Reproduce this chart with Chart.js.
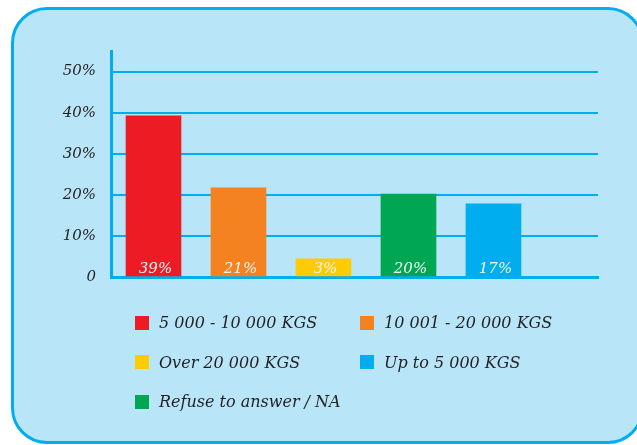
<!DOCTYPE html>
<html><head><meta charset="utf-8">
<script src="https://cdn.jsdelivr.net/npm/chart.js@4"></script>
<style>
html,body{margin:0;padding:0;background:#fff;width:637px;height:445px;overflow:hidden;}
#box{position:absolute;left:11px;top:7px;width:633px;height:437px;box-sizing:border-box;border:3px solid #00aeef;border-radius:36px;background:#b9e5f9;}
#c{position:absolute;left:0;top:0;}
#legend{position:absolute;left:135px;top:303px;display:grid;grid-template-columns:225px 225px;grid-auto-rows:39.5px;font:italic 16px "DejaVu Serif";color:#231f20;}
.item{display:flex;align-items:center;white-space:nowrap;}
.sw{width:14px;height:14px;margin-right:10px;flex:none;}
</style>
</head><body>
<div id="box"></div>
<canvas id="c" width="637" height="445"></canvas>
<div id="legend"></div>
<script>
const categories = ['5 000 - 10 000 KGS', '10 001 - 20 000 KGS', 'Over 20 000 KGS', 'Refuse to answer / NA', 'Up to 5 000 KGS'];
const values = [39.2, 21.7, 4.4, 20.2, 17.8];
const valueLabels = ['39%', '21%', '3%', '20%', '17%'];
const colors = ['#ed1c24', '#f58220', '#ffcb05', '#00a651', '#00aeef'];
const legendOrder = [0, 1, 2, 4, 3];
const yTicks = [0, 10, 20, 30, 40, 50];

const labelPlugin = {
  id: 'valueLabels',
  afterDatasetsDraw(chart) {
    const ctx = chart.ctx;
    const meta = chart.getDatasetMeta(0);
    ctx.save();
    ctx.font = 'italic 15px "DejaVu Serif"';
    ctx.fillStyle = '#f6f6f6';
    ctx.textAlign = 'center';
    ctx.textBaseline = 'alphabetic';
    meta.data.forEach((bar, i) => {
      ctx.fillText(valueLabels[i], bar.x + 2, chart.chartArea.bottom - 4);
    });
    ctx.restore();
  }
};

new Chart(document.getElementById('c'), {
  type: 'bar',
  data: {
    datasets: [{
      data: values.map((v, i) => ({x: i, y: v})),
      backgroundColor: colors,
      borderWidth: 0,
      barThickness: 55
    }]
  },
  options: {
    responsive: false,
    animation: false,
    events: [],
    layout: {padding: {left: 0, top: 51, right: 39, bottom: 168}},
    plugins: {legend: {display: false}, tooltip: {enabled: false}},
    scales: {
      x: {
        type: 'linear', min: -0.5, max: 5.23, z: 1, offset: false,
        ticks: {display: false},
        grid: {display: false, drawTicks: false, offset: false},
        border: {display: true, color: '#00aeef', width: 3},
        afterFit(s) { s.height = 0; }
      },
      y: {
        min: 0, max: 55,
        afterBuildTicks(s) { s.ticks = yTicks.map(v => ({value: v})); },
        afterFit(s) { s.width = 111; },
        ticks: {
          padding: 15,
          color: '#231f20',
          font: {family: 'DejaVu Serif', style: 'italic', size: 15},
          callback: v => v === 0 ? '0' : v + '%'
        },
        grid: {
          drawTicks: false,
          lineWidth: 2,
          color: c => (c.tick && c.tick.value === 0) ? 'rgba(0,0,0,0)' : '#00aeef'
        },
        border: {display: true, color: '#00aeef', width: 3}
      }
    }
  },
  plugins: [labelPlugin]
});

const lg = document.getElementById('legend');
legendOrder.forEach(i => {
  const it = document.createElement('div');
  it.className = 'item';
  const sw = document.createElement('span');
  sw.className = 'sw';
  sw.style.background = colors[i];
  const tx = document.createElement('span');
  tx.textContent = categories[i];
  it.appendChild(sw);
  it.appendChild(tx);
  lg.appendChild(it);
});
</script>
</body></html>
